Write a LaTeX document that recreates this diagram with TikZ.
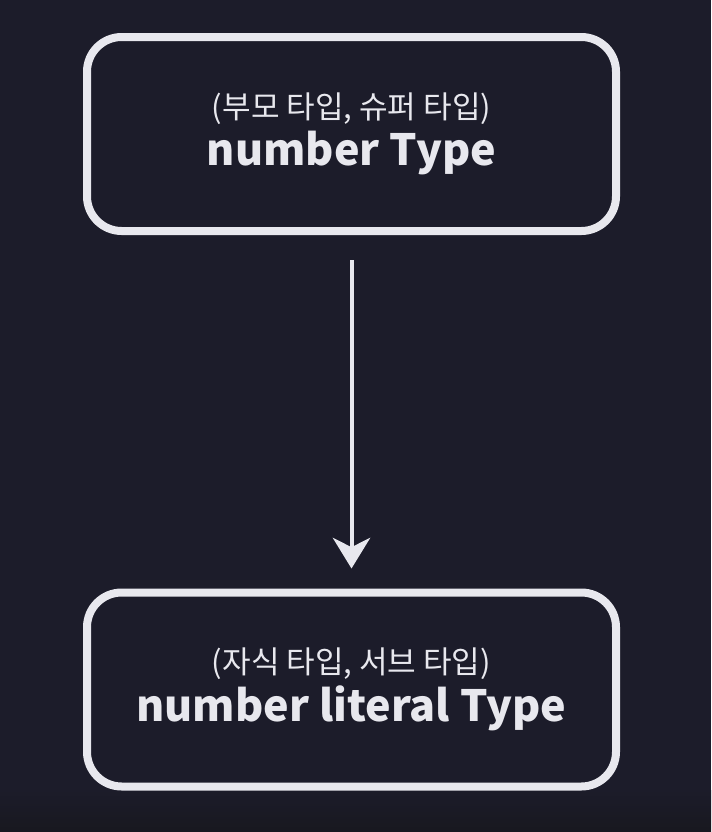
\documentclass[tikz,border=0pt]{standalone}
\usepackage{fontspec}
\setmainfont{Noto Sans CJK KR}
\usetikzlibrary{arrows.meta}
\definecolor{bgnavy}{HTML}{1C1C2A}
\definecolor{bgfoot}{HTML}{18181F}
\definecolor{linewhite}{HTML}{E8E8EE}
\newcommand{\subcap}[1]{{\fontsize{23.3pt}{27pt}\selectfont #1}}
\newcommand{\typecap}[1]{{\bfseries\fontsize{32.3pt}{37pt}\selectfont #1}}
\tikzset{
  typebox/.style={draw=linewhite, line width=6pt, rounded corners=26pt,
    minimum width=396.75pt, minimum height=145.5pt, align=center,
    text=linewhite, inner sep=0pt},
  subtype/.style={-{Stealth[length=23pt,width=28pt,inset=7pt]},
    draw=linewhite, fill=linewhite, line width=3pt}
}
\begin{document}
\begin{tikzpicture}[x=0.75pt,y=-0.75pt]
\fill[bgnavy] (0,0) rectangle (711,832);
\shade[top color=bgnavy, bottom color=bgfoot] (0,790) rectangle (711,832);

\node[typebox] (numtype) at (351.5,134)
  {\subcap{(부모 타입, 슈퍼 타입)}\\[3.5pt]\typecap{number Type}};
\node[typebox] (littype) at (351.5,689.5)
  {\subcap{(자식 타입, 서브 타입)}\\[3.5pt]\typecap{number literal Type}};

\draw[subtype, shorten <=18.75pt, shorten >=15pt] (numtype.south) -- (littype.north);
\end{tikzpicture}
\end{document}
